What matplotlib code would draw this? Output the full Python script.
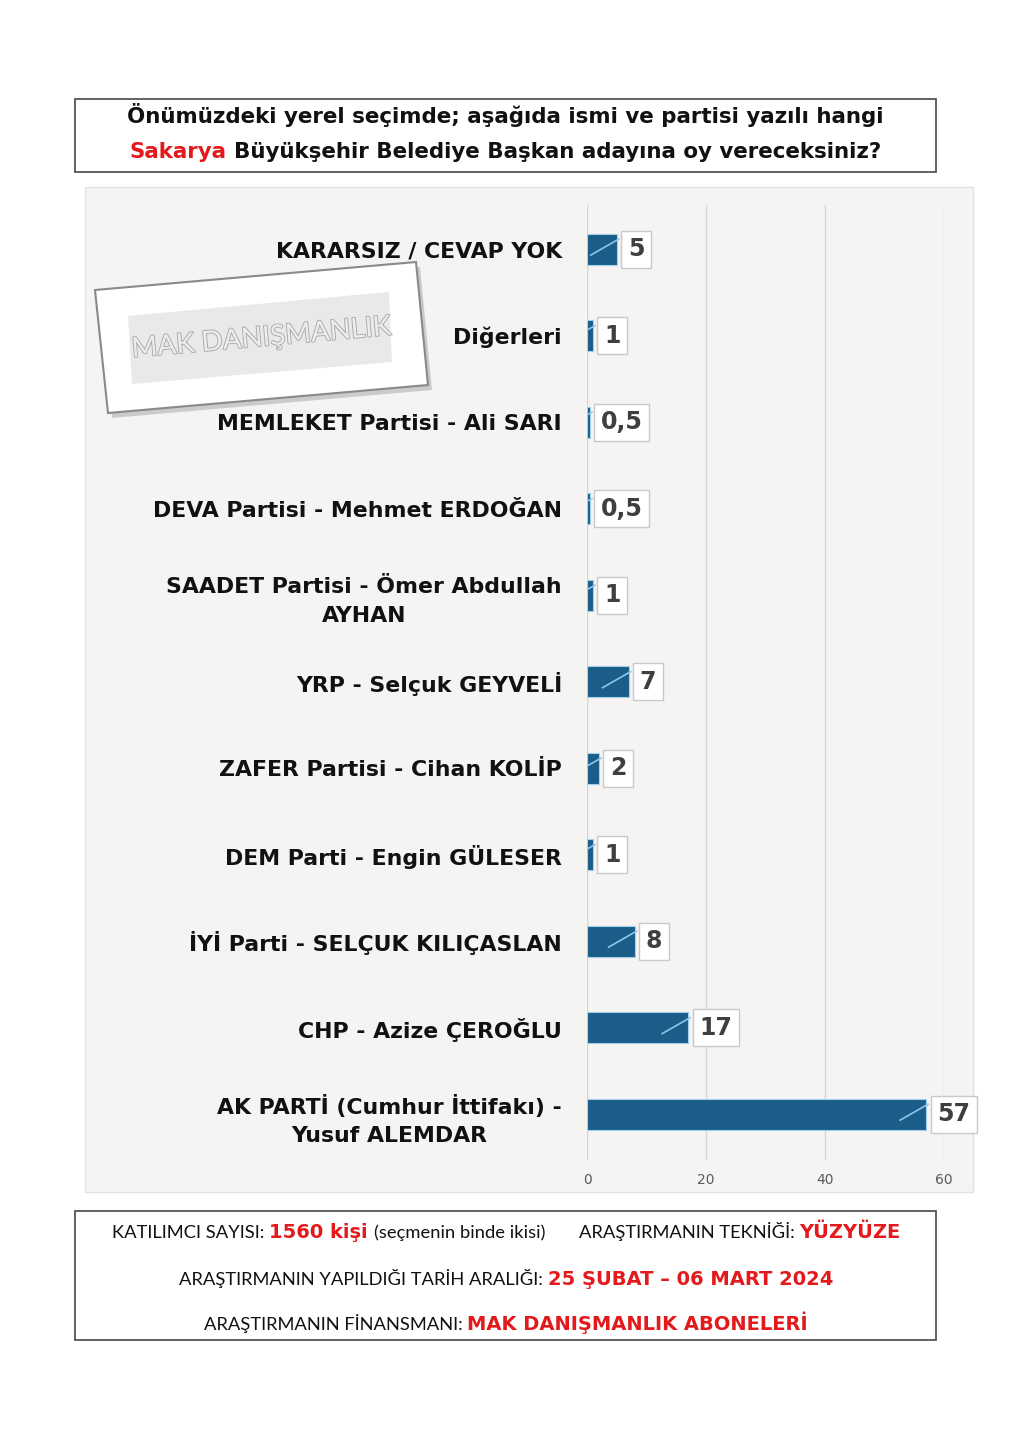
import matplotlib
matplotlib.use("Agg")
import matplotlib.pyplot as plt
import matplotlib.patheffects as pe
from matplotlib.patches import Rectangle, Polygon
from matplotlib.lines import Line2D
from matplotlib import transforms as mtrans

W, H = 1024, 1437

categories = [
    "KARARSIZ / CEVAP YOK",
    "Diğerleri",
    "MEMLEKET Partisi - Ali SARI",
    "DEVA Partisi - Mehmet ERDOĞAN",
    "SAADET Partisi - Ömer Abdullah\nAYHAN",
    "YRP - Selçuk GEYVELİ",
    "ZAFER Partisi - Cihan KOLİP",
    "DEM Parti - Engin GÜLESER",
    "İYİ Parti - SELÇUK KILIÇASLAN",
    "CHP - Azize ÇEROĞLU",
    "AK PARTİ (Cumhur İttifakı) -\nYusuf ALEMDAR",
]
values = [5, 1, 0.5, 0.5, 1, 7, 2, 1, 8, 17, 57]
value_labels = ["5", "1", "0,5", "0,5", "1", "7", "2", "1", "8", "17", "57"]
x_ticks = [0, 20, 40, 60]

RED = "#e3191c"
DARK = "#111111"
NARROW = ["Lato", "DejaVu Sans"]
BOLD = ["DejaVu Sans"]

title_lines = [
    [("Önümüzdeki yerel seçimde; aşağıda ismi ve partisi yazılı hangi", DARK, "bold", BOLD, 15.4)],
    [("Sakarya ", RED, "bold", BOLD, 15.4),
     ("Büyükşehir Belediye Başkan adayına oy vereceksiniz?", DARK, "bold", BOLD, 15.4)],
]
footer_lines = [
    [("KATILIMCI SAYISI: ", DARK, "normal", NARROW, 13.2),
     ("1560 kişi ", RED, "bold", BOLD, 14),
     ("(seçmenin binde ikisi)       ", DARK, "normal", NARROW, 13.2),
     ("ARAŞTIRMANIN TEKNİĞİ: ", DARK, "normal", NARROW, 13.2),
     ("YÜZYÜZE", RED, "bold", BOLD, 14)],
    [("ARAŞTIRMANIN YAPILDIĞI TARİH ARALIĞI: ", DARK, "normal", NARROW, 13.2),
     ("25 ŞUBAT – 06 MART 2024", RED, "bold", BOLD, 14)],
    [("ARAŞTIRMANIN FİNANSMANI: ", DARK, "normal", NARROW, 13.2),
     ("MAK DANIŞMANLIK ABONELERİ", RED, "bold", BOLD, 14)],
]

fig = plt.figure(figsize=(W / 100, H / 100), dpi=100)
fig.patch.set_facecolor("white")
renderer = fig.canvas.get_renderer()

# background layer in pixel coordinates
bg = fig.add_axes([0, 0, 1, 1], zorder=0)
bg.set_xlim(0, W)
bg.set_ylim(H, 0)
bg.axis("off")
bg.add_patch(Rectangle((85, 187), 888, 1005, fc="#f6f3f3", ec="#e2e0e0", lw=1))
bg.add_patch(Rectangle((75, 99), 861, 73, fill=False, ec="#555555", lw=1.3))
bg.add_patch(Rectangle((75, 1211), 861, 129, fill=False, ec="#555555", lw=1.3))


def text_width(txt, **kw):
    t = bg.text(0, 0, txt, **kw)
    w = t.get_window_extent(renderer).width
    t.remove()
    return w


def rich_line(cx, y, parts):
    widths = []
    for txt, color, weight, fam, size in parts:
        kw = dict(fontweight=weight, family=fam, fontsize=size)
        stripped = txt.rstrip(" ")
        n_sp = len(txt) - len(stripped)
        sp = text_width("a a", **kw) - text_width("aa", **kw)
        widths.append(text_width(stripped, **kw) + n_sp * sp)
    x = cx - sum(widths) / 2
    for (txt, color, weight, fam, size), w in zip(parts, widths):
        bg.text(x, y, txt.rstrip(" "), color=color, fontweight=weight,
                family=fam, fontsize=size, ha="left", va="baseline")
        x += w


rich_line(505, 123, title_lines[0])
rich_line(505, 158, title_lines[1])
rich_line(506, 1238, footer_lines[0])
rich_line(506, 1285, footer_lines[1])
rich_line(506, 1330, footer_lines[2])

# chart
ax = fig.add_axes([587 / W, 1 - 1160 / H, 357 / W, 955 / H], zorder=1)
ax.patch.set_alpha(0)
ypos = list(range(len(categories)))
bars = ax.barh(ypos, values, height=0.36, color="#1b5d89",
               edgecolor="#9fd0ee", linewidth=0.8, zorder=3)
ax.set_xlim(0, 60)
ax.set_ylim(10.53, -0.51)
ax.set_xticks(x_ticks)
ax.xaxis.grid(True, color="#d6d6d6", lw=1)
ax.set_axisbelow(True)
for s in ax.spines.values():
    s.set_visible(False)
ax.tick_params(axis="x", length=0, labelsize=10, labelcolor="#5a5a5a", pad=9)
ax.tick_params(axis="y", length=0, pad=18)
ax.set_yticks(ypos)
ax.set_yticklabels(categories, fontsize=15.8, fontweight="bold", color=DARK,
                   family="DejaVu Sans")
for lbl in ax.get_yticklabels():
    lbl.set_multialignment("center")
    lbl.set_linespacing(1.55)

for i, (v, lab, bar) in enumerate(zip(values, value_labels, bars)):
    ax.annotate(lab, xy=(v, i), xytext=(11, 0), textcoords="offset pixels",
                ha="left", va="center", fontsize=17, fontweight="bold",
                color="#3f3f3f", zorder=5, annotation_clip=False,
                bbox=dict(boxstyle="square,pad=0.28", fc="white",
                          ec="#c9c9c9", lw=1))
    px, py = ax.transData.transform((v, i))
    leader = Line2D([px - 26, px + 2], [py - 6, py + 10], color="#8cc6ea",
                    lw=1.2, transform=mtrans.IdentityTransform(), zorder=4)
    leader.set_clip_path(bar)
    ax.add_artist(leader)

# stamp watermark
fg = fig.add_axes([0, 0, 1, 1], zorder=4)
fg.set_xlim(0, W)
fg.set_ylim(H, 0)
fg.axis("off")
outer = [(95, 290), (416, 262), (428, 385), (108, 413)]
fg.add_patch(Polygon([(x + 4, y + 5) for x, y in outer], closed=True,
                     fc="#9a9a9a", ec="none", alpha=0.45))
fg.add_patch(Polygon(outer, closed=True, fc="white", ec="#8a8a8a", lw=1.5))
fg.add_patch(Polygon([(128, 316), (389, 292), (392, 362), (132, 384)],
                     closed=True, fc="#e9e9e9", ec="none"))
fg.text(261, 338, "MAK DANIŞMANLIK", rotation=5, ha="center", va="center",
        fontsize=20, family=NARROW, color="#ededed",
        path_effects=[pe.Stroke(linewidth=1.3, foreground="#a9a9a9"), pe.Normal()])

fig.savefig("out.png", dpi=100, facecolor="white")
